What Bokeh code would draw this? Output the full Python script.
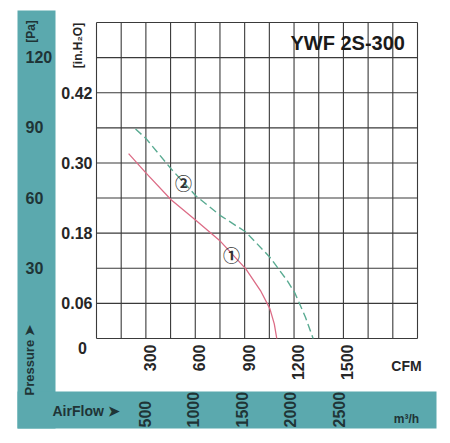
import numpy as np
from bokeh.plotting import figure
from bokeh.models import Range1d
from bokeh.core.properties import value
from bokeh.embed import file_html
from bokeh.resources import INLINE

# ---------------- data ----------------
model_name = "YWF 2S-300"
cfm_ticks = [300, 600, 900, 1200, 1500]
m3h_ticks = [500, 1000, 1500, 2000, 2500]
inh2o_ticks = [0.06, 0.18, 0.30, 0.42]
pa_ticks = [30, 60, 90, 120]

curve1_cfm = [195, 300, 453, 603, 753, 907, 996, 1053, 1080, 1095]
curve1_inh2o = [0.316, 0.283, 0.237, 0.202, 0.166, 0.119, 0.082, 0.051, 0.025, 0.0]
curve2_cfm = [237, 300, 453, 603, 753, 907, 1053, 1158, 1203, 1270, 1316]
curve2_inh2o = [0.358, 0.342, 0.290, 0.244, 0.210, 0.182, 0.139, 0.099, 0.079, 0.036, 0.0]

curve_labels = ["\u2460", "\u2461"]
curve_label_cfm = [820, 528]
curve_label_inh2o = [0.144, 0.267]

CFM_MAX, CFM_STEP = 1950, 150
IN_MAX, IN_STEP = 0.54, 0.06
M3H_PER_CFM = 1.699
PA_PER_INH2O = 249.09

# ---------------- layout ----------------
W, H, M = 442, 435, 0
GL, GR, GT, GB = 96, 417, 22, 338  # grid box in page pixels
sx = (GR - GL) / CFM_MAX
sy = (GB - GT) / IN_MAX


def X(px):
    return (px - GL) / sx


def Y(py):
    return (GB - py) / sy


TEAL = "#5ba9ae"
RED = "#dc6c86"
GREEN = "#5aab92"
INK = "#262626"
INK2 = "#1f3436"
SANS = value("Liberation Sans")

p = figure(width=W, height=H, x_range=Range1d(X(M), X(M + W)),
           y_range=Range1d(Y(M + H), Y(M)), output_backend="svg",
           toolbar_location=None, x_axis_type=None, y_axis_type=None,
           min_border=0, title=None)
p.outline_line_color = None
p.background_fill_color = "white"
p.border_fill_color = "white"

# teal frame bands
p.quad(left=[X(17), X(17)], right=[X(55), X(436)],
       top=[Y(10), Y(391)], bottom=[Y(428), Y(428)],
       fill_color=TEAL, line_color=None)

# grid
gx = np.arange(0, CFM_MAX + 1, CFM_STEP)
gy = np.round(np.arange(0, IN_MAX + 1e-9, IN_STEP), 2)
p.segment(x0=gx, y0=0, x1=gx, y1=IN_MAX, line_color="#3a3a3a", line_width=1.1)
p.segment(x0=0, y0=gy, x1=CFM_MAX, y1=gy, line_color="#3a3a3a", line_width=1.1)

# curves
p.line(curve1_cfm, curve1_inh2o, line_color=RED, line_width=1.3)
p.line(curve2_cfm, curve2_inh2o, line_color=GREEN, line_width=1.4, line_dash="8 4")
p.text(curve_label_cfm, curve_label_inh2o, text=curve_labels,
       text_font=value("Noto Sans CJK SC"), text_font_size="17px",
       text_font_style="bold", text_align="center", text_baseline="middle",
       text_color="#333333")

# title
p.text([X(290)], [Y(42)], text=[model_name], text_font=SANS,
       text_font_style="bold", text_font_size="20px", text_color="#1a1a1a",
       text_align="left", text_baseline="middle")

# inH2O tick labels
p.text([X(92)] * len(inh2o_ticks), inh2o_ticks,
       text=[f"{t:.2f}" for t in inh2o_ticks], text_font=SANS,
       text_font_style="bold", text_font_size="16px", text_color=INK,
       text_align="right", text_baseline="middle")
p.text([X(82)], [Y(347)], text=["0"], text_font=SANS,
       text_font_style="bold", text_font_size="16px", text_color=INK,
       text_align="center", text_baseline="middle")

# Pa tick labels
p.text([X(25)] * len(pa_ticks), [t / PA_PER_INH2O for t in pa_ticks],
       text=[str(t) for t in pa_ticks], text_font=SANS,
       text_font_style="bold", text_font_size="16px", text_color=INK2,
       text_align="left", text_baseline="middle")

# CFM tick labels
p.text([t + 4 / sx for t in cfm_ticks], [Y(344)] * len(cfm_ticks),
       text=[str(t) for t in cfm_ticks], angle=np.pi / 2, text_font=SANS,
       text_font_style="bold", text_font_size="16px", text_color=INK,
       text_align="right", text_baseline="middle")

# m3/h tick labels
p.text([t / M3H_PER_CFM for t in m3h_ticks], [Y(427)] * len(m3h_ticks),
       text=[str(t) for t in m3h_ticks], angle=np.pi / 2, text_font=SANS,
       text_font_style="bold", text_font_size="16px", text_color=INK2,
       text_align="left", text_baseline="middle")

# axis titles / units
p.text([X(30)], [Y(31)], text=["[Pa]"], angle=np.pi / 2, text_font=SANS,
       text_font_style="bold", text_font_size="12px", text_color=INK2,
       text_align="center", text_baseline="middle")
p.text([X(77)], [Y(45)], text=["[in.H\u2082O]"], angle=np.pi / 2, text_font=SANS,
       text_font_style="bold", text_font_size="12px", text_color=INK,
       text_align="center", text_baseline="middle")
p.text([X(29)], [Y(395)], text=["Pressure \u27a4"], angle=np.pi / 2, text_font=SANS,
       text_font_style="bold", text_font_size="13px", text_color=INK2,
       text_align="left", text_baseline="middle")
p.text([X(52)], [Y(410)], text=["AirFlow \u27a4"], text_font=SANS,
       text_font_style="bold", text_font_size="14px", text_color=INK2,
       text_align="left", text_baseline="middle")
p.text([X(406)], [Y(365)], text=["CFM"], text_font=SANS,
       text_font_style="bold", text_font_size="14px", text_color=INK,
       text_align="center", text_baseline="middle")
p.text([X(406)], [Y(418)], text=["m\u00b3/h"], text_font=SANS,
       text_font_style="bold", text_font_size="12px", text_color=INK2,
       text_align="center", text_baseline="middle")

open("out.html", "w").write(file_html(p, INLINE))
